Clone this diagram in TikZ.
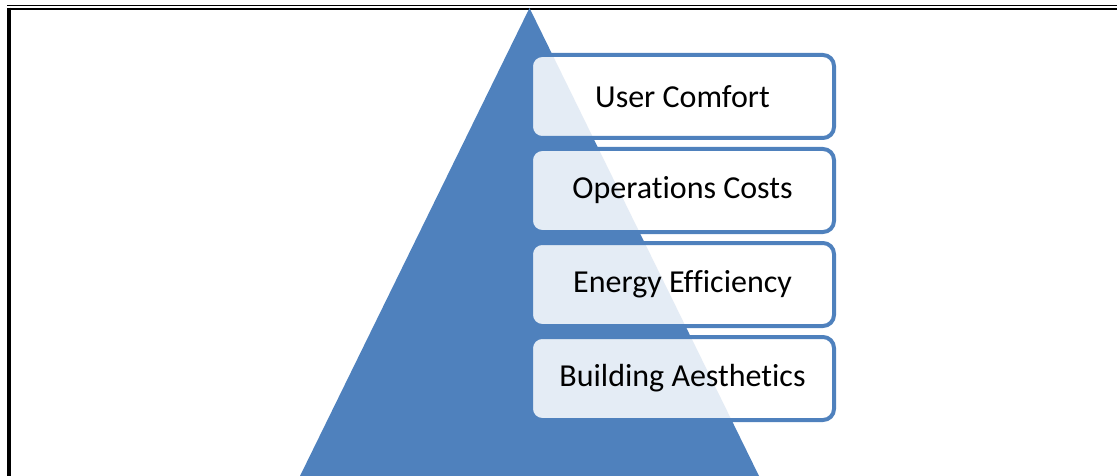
\documentclass[tikz,border=0pt]{standalone}
\usepackage{fontspec}
\setmainfont[Ligatures=NoCommon,RawFeature=-liga]{Carlito}
\definecolor{pyrblue}{HTML}{4F81BD}
\tikzset{
  tier/.style={draw=pyrblue,line width=4pt,rounded corners=11pt,fill=white,fill opacity=0.85,text opacity=1,
    minimum width=303pt,minimum height=83pt,inner sep=0pt,font=\fontsize{32}{38}\selectfont}
}
\begin{document}
\begin{tikzpicture}[x=1pt,y=-1pt]
\useasboundingbox (0,0) rectangle (1117,476);
% frame
\draw[line width=1.3pt] (7,5.5) -- (1117,5.5);
\draw[line width=2.5pt] (7,9) -- (1117,9);
\draw[line width=4pt] (9,7.75) -- (9,476);
% pyramid
\coordinate (top) at (529.5,8);
\coordinate (bl) at (300,476);
\coordinate (br) at (759,476);
\fill[pyrblue] (top) -- (br) -- (bl) -- cycle;
% tiers
\node[tier] (comfort) at (682.5,96.5) {User Comfort};
\node[tier] (costs) at (682.5,190.5) {Operations Costs};
\node[tier] (energy) at (682.5,284.5) {Energy Efficiency};
\node[tier] (aesth) at (682.5,378.5) {Building Aesthetics};
\end{tikzpicture}
\end{document}
